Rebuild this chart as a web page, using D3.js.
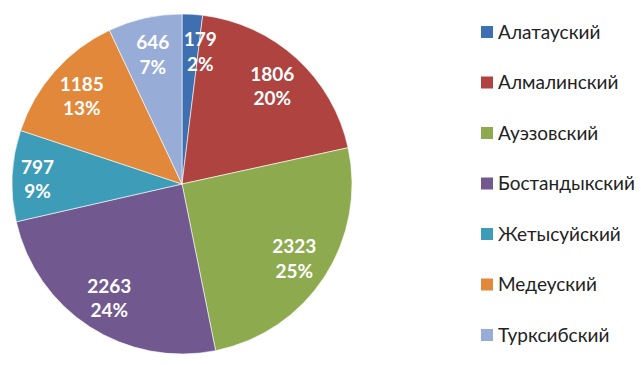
<!DOCTYPE html>
<html>
<head>
<meta charset="utf-8">
<script src="https://cdn.jsdelivr.net/npm/d3@7"></script>
<style>
  body { margin: 0; background: #fff; }
  svg { display: block; }
</style>
</head>
<body>
<svg id="chart" width="641" height="365"></svg>
<script>
/* ---------- data ---------- */
const districts = ["Алатауский", "Алмалинский", "Ауэзовский", "Бостандыкский", "Жетысуйский", "Медеуский", "Турксибский"];
const counts = [179, 1806, 2323, 2263, 797, 1185, 646];
const percents = ["2%", "20%", "25%", "24%", "9%", "13%", "7%"];
const colors = ["#3E6FB0", "#AE4340", "#8DAA4F", "#71588F", "#3D9CB8", "#E2883A", "#97ACD6"];

/* ---------- pie ---------- */
const svg = d3.select("#chart");
const cx = 182, cy = 184, radius = 170;
const rows = districts.map((name, i) => ({ name, value: counts[i], pct: percents[i], color: colors[i] }));

const pie = d3.pie().sort(null).value(d => d.value);
const arc = d3.arc().innerRadius(0).outerRadius(radius);
const labelArc = d3.arc().innerRadius(134).outerRadius(134);

const g = svg.append("g").attr("transform", `translate(${cx},${cy})`);
const arcs = pie(rows);

g.selectAll("path")
  .data(arcs)
  .join("path")
  .attr("d", arc)
  .attr("fill", d => d.data.color)
  .attr("stroke", "#fff")
  .attr("stroke-width", 0.6);

// thin slices: nudge label along the tangent so it stays readable (like Excel best fit)
function labelPos(d) {
  let [x, y] = labelArc.centroid(d);
  const span = d.endAngle - d.startAngle;
  if (span < 0.2) x += 10;
  if (Math.abs(y) < 20) x *= 1.08;
  return [x, y];
}

const lbl = g.selectAll("text.lbl")
  .data(arcs)
  .join("text")
  .attr("class", "lbl")
  .attr("transform", d => `translate(${labelPos(d)})`)
  .attr("text-anchor", "middle")
  .style("font-family", "Lato, 'Open Sans', sans-serif")
  .style("font-weight", "bold")
  .style("font-size", "19px")
  .attr("fill", "#fff");

lbl.append("tspan").attr("x", 0).attr("dy", "-0.2em").text(d => d.data.value);
lbl.append("tspan").attr("x", 0).attr("dy", "1.27em").text(d => d.data.pct);

/* ---------- legend ---------- */
const legend = svg.append("g").attr("transform", "translate(481,32)");
const item = legend.selectAll("g")
  .data(rows)
  .join("g")
  .attr("transform", (d, i) => `translate(0,${i * 50.5})`);

item.append("rect")
  .attr("x", 0).attr("y", -6)
  .attr("width", 12).attr("height", 12)
  .attr("fill", d => d.color);

item.append("text")
  .attr("x", 17).attr("y", 6.5)
  .style("font-family", "Lato, 'Open Sans', sans-serif")
  .style("font-size", "19px")
  .attr("fill", "#222")
  .text(d => d.name);
</script>
</body>
</html>
